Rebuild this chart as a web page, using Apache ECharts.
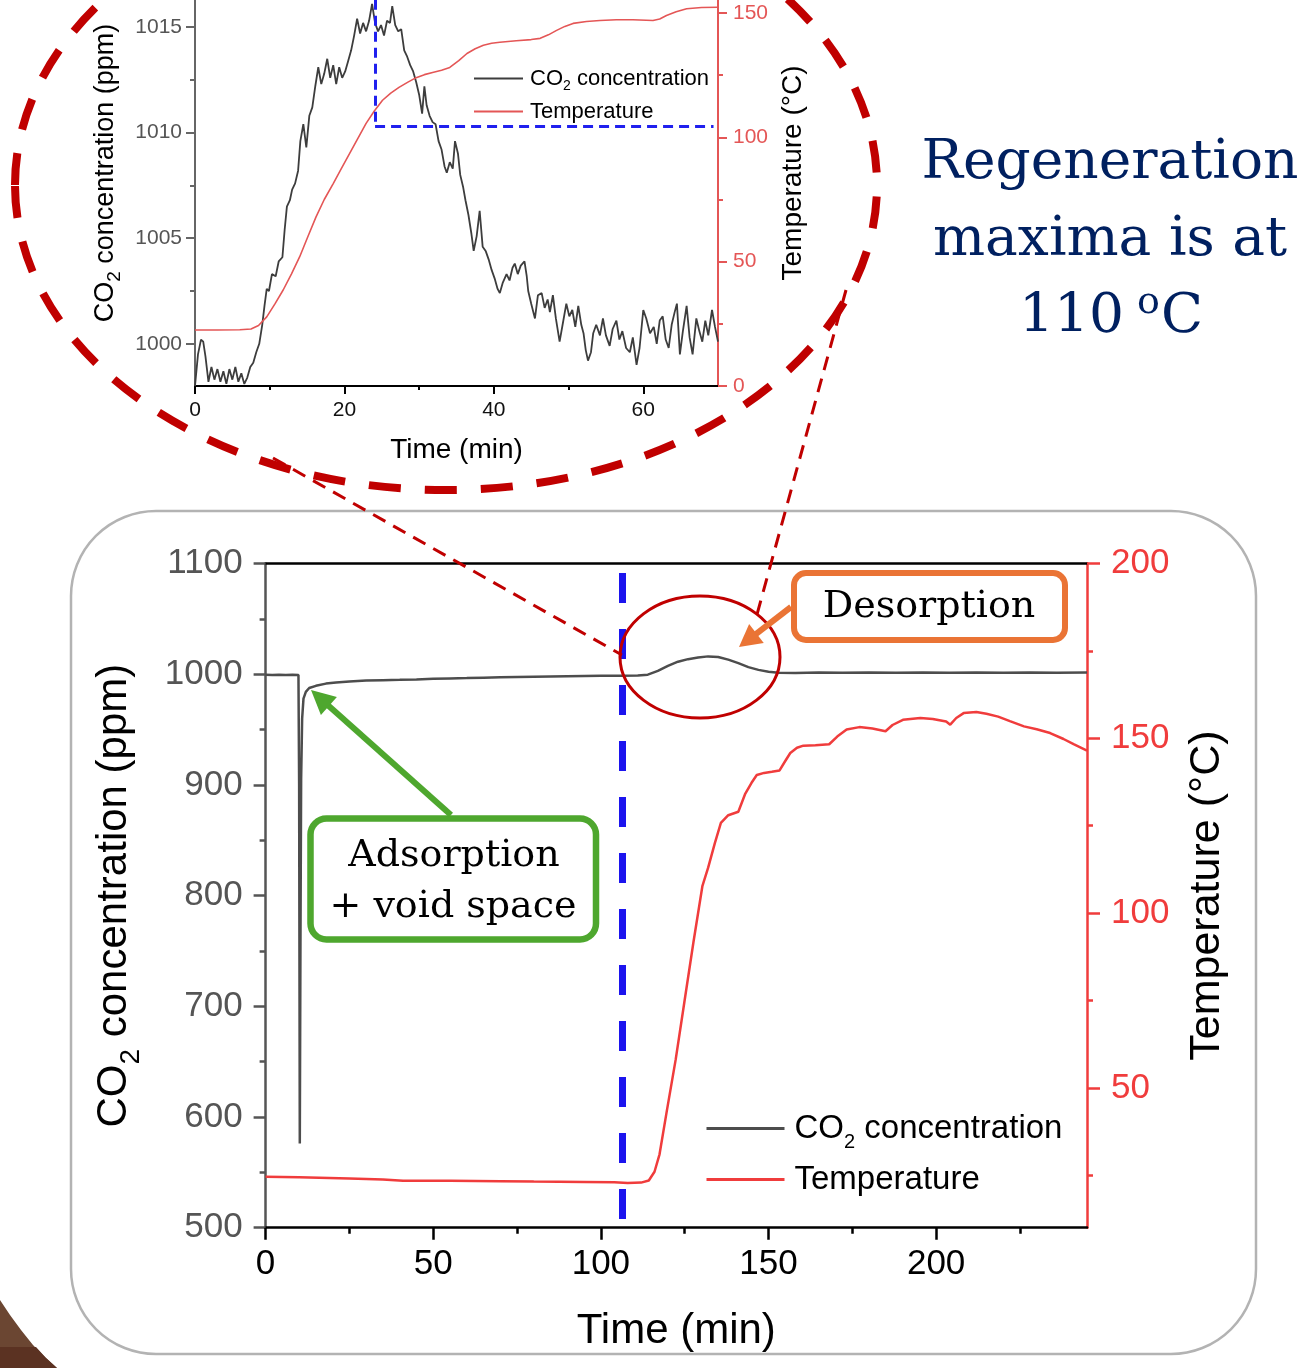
<!DOCTYPE html>
<html><head><meta charset="utf-8">
<script src="https://cdn.jsdelivr.net/npm/echarts@6/dist/echarts.min.js"></script>
<style>html,body{margin:0;padding:0;background:#fff}#c{width:1305px;height:1368px}</style>
</head><body><div id="c"></div>
<script>
// ---------- DATA ----------
// Main chart: CO2 concentration (ppm) vs time (min)
const mainCO2Time = [0,2,4,6,8,9.8,10.0,10.2,10.4,10.6,10.9,11.3,12,13,15,18,21,25,30,35,40,45,50,55,60,65,70,75,80,85,90,95,100,106,111,114,117,120,123,126,129,132,135,138,141,144,147,150,153,158,165,172,180,188,196,204,212,220,228,236,245];
const mainCO2 = [999.4,999.2,999.6,999.3,999.5,999.3,900,576,760,905,960,978,984,987.5,989.5,991.5,992.6,993.5,994.2,994.6,994.9,995.3,995.8,996.2,996.5,996.9,997.2,997.5,997.8,998.0,998.2,998.4,998.6,998.5,998.9,999.6,1003,1007.5,1011.3,1013.6,1015,1016.1,1015.6,1013.2,1010,1006.4,1003.9,1002.3,1001.4,1001.1,1001.5,1001.2,1001.6,1001.3,1001.5,1001.2,1001.6,1001.3,1001.5,1001.2,1001.6];
// Main chart: temperature (°C) vs time (min)
const mainTempTime = [0,10,25,35,41,55,70,80,95,104,108,112,114.3,116,117.5,119.6,122.3,124.9,127.6,130.3,132,134,135.8,138,141,143,144.9,146.5,148.7,151,153.3,155,156.5,158.5,160.4,164,168.1,170.5,173.3,177.1,181,184.9,187,190.1,195.3,199,203,204.2,206,208.2,212,215,218.5,222,226.2,230,234,238,241,245];
const mainTemp = [24.6,24.4,24.1,23.8,23.4,23.4,23.3,23.2,23.1,23.0,22.8,22.9,23.5,26,31,43,58,74.5,91.6,107.8,113,120,125.8,128,129,134,137.2,139.5,140.1,140.4,140.8,143.5,145.8,147.3,147.9,148,148.3,150.5,152.5,153.2,152.8,152,153.8,155.3,155.8,155.5,154.8,153.9,155.8,157.2,157.5,157,156.2,154.9,153.4,152.6,151.5,149.8,148.3,146.5];
const regenStartTime = 106.3; // blue dashed marker (min)

// Inset chart: CO2 concentration (ppm) vs time (min)
const insetCO2Time = [0,0.4,0.8,1.1,1.4,1.8,2.2,2.6,3,3.4,3.8,4.2,4.6,5,5.4,5.8,6.2,6.6,7,7.4,7.8,8.2,8.6,9,9.3,9.6,9.9,10.3,10.8,11.2,11.7,12,12.3,12.7,13,13.4,13.8,14.1,14.5,14.9,15.3,15.7,16.1,16.5,16.9,17.3,17.7,18.1,18.5,18.9,19.3,19.7,20.1,20.5,20.9,21.3,21.7,22.1,22.5,22.9,23.3,23.7,24.1,24.5,24.9,25.3,25.7,26.1,26.4,26.8,27.2,27.6,28,28.4,28.8,29.2,29.6,30,30.4,30.7,31,31.4,31.8,32.2,32.6,33,33.4,33.7,34.1,34.5,34.8,35.2,35.5,35.9,36.2,36.6,37,37.3,37.7,38.1,38.5,38.9,39.3,39.7,40.1,40.5,40.8,41.2,41.7,42.1,42.5,42.8,43.2,43.6,44.1,44.4,44.6,45,45.5,45.9,46.4,46.8,47.2,47.5,47.9,48.3,48.8,49.2,49.7,50.1,50.5,50.9,51.3,51.7,52,52.3,52.6,53,53.3,53.7,54.2,54.6,55,55.5,55.9,56.4,56.8,57.2,57.7,58.2,58.6,59.1,59.5,60,60.4,60.9,61.4,61.8,62.2,62.6,63,63.4,63.8,64.2,64.5,64.9,65.3,65.8,66.2,66.6,67.1,67.5,67.9,68.3,68.7,69.2,69.6,70];
const insetCO2 = [998,999.5,1000.2,1000.1,999.4,998.2,998.9,998.3,998.8,998.2,998.7,998.1,998.8,998.3,998.9,998.2,998.6,998.1,998.4,998.9,999.1,999.6,1000,1000.9,1001.8,1002.6,1002.5,1003.3,1003.2,1003.9,1004.1,1005.4,1006.5,1006.8,1007.3,1007.6,1008.2,1009.6,1010.4,1009.3,1010.8,1011.2,1012.2,1013.1,1012.3,1012.8,1013.5,1012.6,1013.2,1012.3,1013.1,1012.6,1012.9,1013.4,1013.9,1014.6,1015.4,1014.7,1015.2,1014.8,1015.3,1016.1,1015.2,1014.8,1015.1,1014.6,1015.3,1015.2,1016.0,1015.1,1014.8,1014.9,1013.9,1013.6,1013.2,1012.9,1012.4,1011.8,1010.9,1012.2,1011.3,1010.8,1010.5,1010.4,1009.6,1009.2,1008.4,1008.1,1008.6,1008.3,1009.6,1009.0,1008.0,1007.4,1006.8,1006.1,1005.2,1004.4,1005.1,1006.3,1004.6,1004.4,1004.0,1003.5,1003.1,1002.6,1002.4,1002.9,1003.3,1003.0,1003.6,1003.8,1003.3,1003.7,1003.9,1003.2,1002.5,1001.9,1001.2,1002.3,1002.4,1001.7,1002.1,1001.5,1002.3,1001.2,1000.1,1000.9,1001.9,1001.3,1001.6,1000.8,1001.8,1000.9,1000.5,999.7,999.2,999.6,1000.5,1000.9,1000.4,1001.2,1000.4,999.9,1000.7,1001.1,1000.2,1000.6,999.8,999.6,1000.3,999.0,999.8,1001.6,1001.2,1000.5,1000.8,1000.0,1001.1,1001.3,1000.2,999.8,1000.9,1001.5,1001.9,999.5,1000.6,1001.8,1000.3,999.5,1001.2,1000.6,1000.1,1001.1,1000.4,1001.6,1000.8,1000.1];
// Inset chart: temperature (°C) vs time (min)
const insetTempTime = [0,3,6,7.5,8.5,9.6,10.7,11.8,12.9,14,15.1,16.2,17.3,18.5,19.6,20.7,21.8,22.9,24,25.1,26.2,27.3,28.5,29.6,30.7,31.8,33,34.1,35.3,36.4,37.5,38.6,39.7,40.8,43,45,46.2,47.3,48.4,49.5,50.6,52.4,54.2,56.4,58.6,61.3,62.2,63.1,64.4,65.8,67.8,70];
const insetTemp = [22.5,22.5,22.6,22.9,24.3,27.8,33,38.6,45,51.9,60,68,75,81.4,87.5,93.5,99.6,105.6,110.6,114.9,117.8,120.1,122.2,124,125.2,126.1,127,128.1,130.8,133.7,135.6,137,137.8,138.2,138.8,139.3,139.8,141.2,143,144.6,145.8,146.6,147,147.3,147.3,147,147.6,149,150.5,151.7,152.2,152.3];
const insetMaxTime = 24.1;     // blue dashed vertical (min)
const insetMaxLevel = 1010.3;  // blue dashed horizontal (ppm axis)
const insetMarkEnd = 69.4;

// Tick values / labels
const mainXTicks = [0,50,100,150,200];
const mainXMinor = [25,75,125,175,225];
const mainTempTicks = [50,100,150,200];
const mainTempMinor = [25,75,125,175];
const insetXTicks = [0,20,40,60];
const insetXMinor = [10,30,50];
const insetCO2Ticks = [1000,1005,1010,1015];
const insetCO2Minor = [1002.5,1007.5,1012.5];
const insetTempTicks = [0,50,100,150];
const insetTempMinor = [25,75,125];

// ---------- helpers ----------
const zip = (a, b) => a.map((v, i) => [v, b[i]]);
const plain = v => String(v);
const SANS = '"Liberation Sans", Arial, sans-serif';
const SERIF = '"DejaVu Serif", serif';
const RED = '#f03c3c';
const INSET_RED = '#e45656';
const DARKRED = '#c00000';

function minorAxis(grid, pos, min, max, vals, len, color, w) {
  return {
    type: 'value', gridIndex: grid, position: pos, min: min, max: max,
    axisLine: {show: false, onZero: false}, splitLine: {show: false},
    axisLabel: {show: false},
    axisTick: {show: true, customValues: vals, length: len, lineStyle: {color: color, width: w}}
  };
}
function arrow(x1, y1, x2, y2, color, width, hl, hw) {
  const dx = x2 - x1, dy = y2 - y1, L = Math.hypot(dx, dy);
  const ux = dx / L, uy = dy / L, px = -uy, py = ux;
  const bx = x2 - ux * hl, by = y2 - uy * hl;
  return [
    {type: 'line', shape: {x1: x1, y1: y1, x2: bx + ux * 2, y2: by + uy * 2}, style: {stroke: color, lineWidth: width}, z: 10},
    {type: 'polygon', shape: {points: [[x2, y2], [bx + px * hw / 2, by + py * hw / 2], [bx - px * hw / 2, by - py * hw / 2]]}, style: {fill: color}, z: 10}
  ];
}

const chart = echarts.init(document.getElementById('c'), null, {renderer: 'canvas'});

const legendRich = (A, S, L) => ({
  a: {fontSize: A, lineHeight: L, color: '#000', fontFamily: SANS},
  s: {fontSize: S, lineHeight: S, verticalAlign: 'bottom', color: '#000', fontFamily: SANS}
});
const legendFmt = n => (n.indexOf('co2') === 0 ? '{a|CO}{s|2}{a| concentration}' : '{a|Temperature}');
function legendItem(name, left, top, w, lw, A, S, L, pad) {
  return {data: [name], left: left, top: top, orient: 'vertical', itemWidth: w, itemHeight: 14, padding: 0,
    itemStyle: {opacity: 0}, lineStyle: {width: lw},
    formatter: legendFmt, textStyle: {padding: [0, 0, 0, pad], rich: legendRich(A, S, L)}, selectedMode: false};
}

const option = {
  animation: false,
  backgroundColor: '#ffffff',
  textStyle: {fontFamily: SANS},
  grid: [
    {left: 265.6, top: 563.5, width: 821.4, height: 664.2, outerBoundsMode: 'none', containLabel: false},
    {left: 195, top: -40, width: 523, height: 426, outerBoundsMode: 'none', containLabel: false}
  ],
  xAxis: [
    { // main bottom
      type: 'value', gridIndex: 0, position: 'bottom', min: 0, max: 245,
      axisLine: {show: true, onZero: false, lineStyle: {color: '#000', width: 2.5}},
      axisTick: {show: true, customValues: mainXTicks, length: 12, lineStyle: {color: '#000', width: 2.5}},
      axisLabel: {customValues: mainXTicks, formatter: plain, fontSize: 35, color: '#000', margin: 19, fontFamily: SANS},
      splitLine: {show: false},
      name: 'Time (min)', nameLocation: 'middle', nameGap: 79,
      nameTextStyle: {fontSize: 42, lineHeight: 50, color: '#000', fontFamily: SANS}
    },
    minorAxis(0, 'bottom', 0, 245, mainXMinor, 6, '#000', 2.5),
    { // main top frame line
      type: 'value', gridIndex: 0, position: 'top', min: 0, max: 245,
      axisLine: {show: true, onZero: false, lineStyle: {color: '#000', width: 2.5}},
      axisTick: {show: false}, axisLabel: {show: false}, splitLine: {show: false}
    },
    { // inset bottom
      type: 'value', gridIndex: 1, position: 'bottom', min: 0, max: 70,
      axisLine: {show: true, onZero: false, lineStyle: {color: '#000', width: 2}},
      axisTick: {show: true, customValues: insetXTicks, length: 8, lineStyle: {color: '#000', width: 2}},
      axisLabel: {customValues: insetXTicks, formatter: plain, fontSize: 21, color: '#111', margin: 14, fontFamily: SANS},
      splitLine: {show: false},
      name: 'Time (min)', nameLocation: 'middle', nameGap: 47,
      nameTextStyle: {fontSize: 28, lineHeight: 34, color: '#000', fontFamily: SANS}
    },
    minorAxis(1, 'bottom', 0, 70, insetXMinor, 4, '#000', 2)
  ],
  yAxis: [
    { // main CO2
      type: 'value', gridIndex: 0, position: 'left', min: 500, max: 1100, interval: 100,
      axisLine: {show: true, onZero: false, lineStyle: {color: '#555', width: 2.5}},
      axisTick: {show: true, length: 12, lineStyle: {color: '#555', width: 2.5}},
      minorTick: {show: true, splitNumber: 2, length: 6, lineStyle: {color: '#555', width: 2.5}},
      axisLabel: {formatter: plain, fontSize: 35, color: '#555', margin: 23, fontFamily: SANS},
      splitLine: {show: false}, minorSplitLine: {show: false},
      name: '{a|CO}{s|2}{a| concentration (ppm)}', nameLocation: 'middle', nameGap: 120,
      nameTextStyle: {rich: {
        a: {fontSize: 42, lineHeight: 62, color: '#000', fontFamily: SANS},
        s: {fontSize: 28, lineHeight: 28, verticalAlign: 'bottom', color: '#000', fontFamily: SANS}
      }}
    },
    { // main temperature
      type: 'value', gridIndex: 0, position: 'right', min: 10, max: 200,
      axisLine: {show: true, onZero: false, lineStyle: {color: RED, width: 2.5}},
      axisTick: {show: true, customValues: mainTempTicks, length: 13, lineStyle: {color: RED, width: 2.5}},
      axisLabel: {customValues: mainTempTicks, formatter: plain, fontSize: 35, color: RED, margin: 24, fontFamily: SANS},
      splitLine: {show: false},
      name: 'Temperature (°C)', nameLocation: 'middle', nameGap: 95, nameRotate: 90,
      nameTextStyle: {fontSize: 43, lineHeight: 50, color: '#000', fontFamily: SANS}
    },
    minorAxis(0, 'right', 10, 200, mainTempMinor, 6, RED, 2.5),
    { // inset CO2
      type: 'value', gridIndex: 1, position: 'left', min: 998, max: 1018.18,
      axisLine: {show: true, onZero: false, lineStyle: {color: '#666', width: 2}},
      axisTick: {show: true, customValues: insetCO2Ticks, length: 9, lineStyle: {color: '#666', width: 2}},
      axisLabel: {customValues: insetCO2Ticks, formatter: plain, fontSize: 21, color: '#555', margin: 13, fontFamily: SANS},
      splitLine: {show: false},
      name: '{a|CO}{s|2}{a| concentration (ppm)}', nameLocation: 'middle', nameGap: 71,
      nameTextStyle: {rich: {
        a: {fontSize: 27, lineHeight: 37, color: '#000', fontFamily: SANS},
        s: {fontSize: 19, lineHeight: 19, verticalAlign: 'bottom', color: '#000', fontFamily: SANS}
      }}
    },
    minorAxis(1, 'left', 998, 1018.18, insetCO2Minor, 5, '#666', 2),
    { // inset temperature
      type: 'value', gridIndex: 1, position: 'right', min: 0, max: 171.3,
      axisLine: {show: true, onZero: false, lineStyle: {color: INSET_RED, width: 2}},
      axisTick: {show: true, customValues: insetTempTicks, length: 9, lineStyle: {color: INSET_RED, width: 2}},
      axisLabel: {customValues: insetTempTicks, formatter: plain, fontSize: 21, color: INSET_RED, margin: 15, fontFamily: SANS},
      splitLine: {show: false},
      name: 'Temperature (°C)', nameLocation: 'middle', nameGap: 58, nameRotate: 90,
      nameTextStyle: {fontSize: 28, lineHeight: 34, color: '#000', fontFamily: SANS}
    },
    minorAxis(1, 'right', 0, 171.3, insetTempMinor, 5, INSET_RED, 2)
  ],
  legend: [
    legendItem('co2Main', 705, 1112, 78, 3, 33, 20, 47, 5),
    legendItem('tempMain', 705, 1163, 78, 3, 33, 20, 47, 5),
    legendItem('co2Inset', 473, 67.5, 49, 2, 22, 14, 30, 2),
    legendItem('tempInset', 473, 100.5, 49, 2, 22, 14, 30, 2)
  ],
  series: [
    {
      name: 'co2Main', type: 'line', xAxisIndex: 0, yAxisIndex: 0, data: zip(mainCO2Time, mainCO2),
      symbol: 'none', lineStyle: {color: '#4d4d4d', width: 2.5}, itemStyle: {color: '#4d4d4d'}, z: 3,
      markLine: {
        silent: true, symbol: ['none', 'none'], label: {show: false},
        lineStyle: {color: '#1c14ee', width: 7, type: [30, 26]},
        data: [[{coord: [regenStartTime, 1091.4]}, {coord: [regenStartTime, 505.4]}]]
      }
    },
    {
      name: 'tempMain', type: 'line', xAxisIndex: 0, yAxisIndex: 1, data: zip(mainTempTime, mainTemp),
      symbol: 'none', lineStyle: {color: RED, width: 2.5}, itemStyle: {color: RED}, z: 3
    },
    {
      name: 'co2Inset', type: 'line', xAxisIndex: 3, yAxisIndex: 3, data: zip(insetCO2Time, insetCO2),
      symbol: 'none', lineStyle: {color: '#3d3d3d', width: 1.8}, itemStyle: {color: '#3d3d3d'}, z: 3,
      markLine: {
        silent: true, symbol: ['none', 'none'], label: {show: false},
        lineStyle: {color: '#2020ee', width: 3, type: [10, 6]},
        data: [
          [{coord: [insetMaxTime, 1016.3]}, {coord: [insetMaxTime, insetMaxLevel]}],
          [{coord: [insetMaxTime, insetMaxLevel]}, {coord: [insetMarkEnd, insetMaxLevel]}]
        ]
      }
    },
    {
      name: 'tempInset', type: 'line', xAxisIndex: 3, yAxisIndex: 5, data: zip(insetTempTime, insetTemp),
      symbol: 'none', lineStyle: {color: INSET_RED, width: 1.6}, itemStyle: {color: INSET_RED}, z: 3
    }
  ],
  graphic: {elements: [].concat(
    [
      {type: 'rect', shape: {x: 71, y: 511, width: 1185, height: 843, r: 85}, style: {fill: 'none', stroke: '#b3b3b3', lineWidth: 2.5}, z: -1, silent: true},
      {type: 'polygon', shape: {points: [[0, 1300], [10, 1315], [21, 1330], [33, 1345], [46, 1358], [57, 1368], [0, 1368]]}, style: {fill: '#6b4632'}, silent: true},
      {type: 'polygon', shape: {points: [[0, 1347], [36, 1347], [46, 1358], [57, 1368], [0, 1368]]}, style: {fill: '#5b3222'}, silent: true},
      {type: 'ellipse', shape: {cx: 446, cy: 185, rx: 431, ry: 305}, style: {fill: 'none', stroke: DARKRED, lineWidth: 8, lineDash: [32, 24]}, z: 5, silent: true},
      {type: 'line', shape: {x1: 273, y1: 458, x2: 622, y2: 655}, style: {stroke: DARKRED, lineWidth: 3, lineDash: [14, 9]}, z: 6, silent: true},
      {type: 'line', shape: {x1: 846, y1: 290, x2: 756, y2: 618}, style: {stroke: DARKRED, lineWidth: 3, lineDash: [14, 9]}, z: 6, silent: true},
      {type: 'ellipse', shape: {cx: 700, cy: 657, rx: 80, ry: 61}, style: {fill: 'none', stroke: DARKRED, lineWidth: 3}, z: 6, silent: true},
      {type: 'rect', shape: {x: 794, y: 573, width: 271, height: 67, r: 12}, style: {fill: '#fff', stroke: '#ea7435', lineWidth: 6}, z: 8, silent: true},
      {type: 'text', style: {text: 'Desorption', x: 929, y: 607, font: '38px ' + SERIF, fill: '#000', textAlign: 'center', textVerticalAlign: 'middle', align: 'center', verticalAlign: 'middle'}, z: 9, silent: true},
      {type: 'rect', shape: {x: 310.5, y: 818.5, width: 285.5, height: 121, r: 16}, style: {fill: '#fff', stroke: '#4ea72e', lineWidth: 6.5}, z: 8, silent: true},
      {type: 'text', style: {text: 'Adsorption', x: 454, y: 856, font: '38px ' + SERIF, fill: '#000', textAlign: 'center', textVerticalAlign: 'middle', align: 'center', verticalAlign: 'middle'}, z: 9, silent: true},
      {type: 'text', style: {text: '+ void space', x: 453, y: 907, font: '38px ' + SERIF, fill: '#000', textAlign: 'center', textVerticalAlign: 'middle', align: 'center', verticalAlign: 'middle'}, z: 9, silent: true},
      {type: 'text', style: {text: 'Regeneration', x: 1110, y: 164, font: '55px ' + SERIF, fill: '#002060', textAlign: 'center', textVerticalAlign: 'middle', align: 'center', verticalAlign: 'middle'}, silent: true},
      {type: 'text', style: {text: 'maxima is at', x: 1110, y: 241, font: '55px ' + SERIF, fill: '#002060', textAlign: 'center', textVerticalAlign: 'middle', align: 'center', verticalAlign: 'middle'}, silent: true},
      {type: 'text', style: {text: '110', x: 1019, y: 318, font: '55px ' + SERIF, fill: '#002060', textAlign: 'left', textVerticalAlign: 'middle', align: 'left', verticalAlign: 'middle'}, silent: true},
      {type: 'text', style: {text: 'o', x: 1137, y: 303, font: '38px ' + SERIF, fill: '#002060', textAlign: 'left', textVerticalAlign: 'middle', align: 'left', verticalAlign: 'middle'}, silent: true},
      {type: 'text', style: {text: 'C', x: 1161, y: 318, font: '55px ' + SERIF, fill: '#002060', textAlign: 'left', textVerticalAlign: 'middle', align: 'left', verticalAlign: 'middle'}, silent: true}
    ],
    arrow(451, 815, 311, 690, '#4ea72e', 6, 24, 24),
    arrow(791, 607, 739, 647, '#ea7435', 6, 22, 24)
  )}
};
chart.setOption(option);
</script>
</body></html>
